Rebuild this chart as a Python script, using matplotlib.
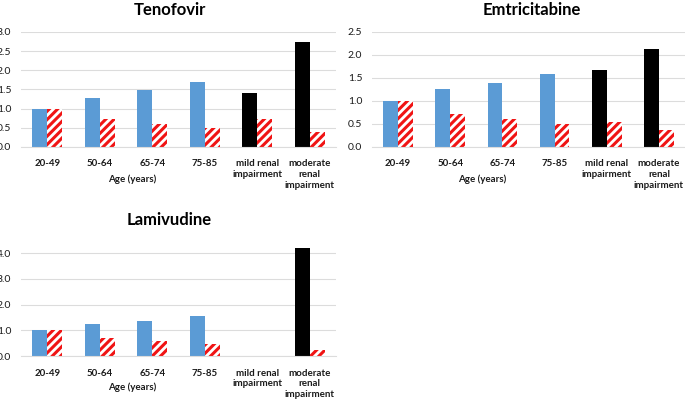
import numpy as np
import matplotlib
matplotlib.use("Agg")
import matplotlib.pyplot as plt
from matplotlib.transforms import blended_transform_factory

plt.rcParams['font.family'] = ['Lato', 'DejaVu Sans']
plt.rcParams['hatch.linewidth'] = 2.2

categories = ["20-49", "50-64", "65-74", "75-85", "mild renal\nimpairment", "moderate\nrenal\nimpairment"]

tenofovir_exposure = [1.0, 1.28, 1.48, 1.70, 1.40, 2.75]
tenofovir_dose = [1.0, 0.72, 0.60, 0.50, 0.72, 0.38]

emtricitabine_exposure = [1.0, 1.25, 1.40, 1.58, 1.68, 2.12]
emtricitabine_dose = [1.0, 0.72, 0.60, 0.50, 0.55, 0.37]

lamivudine_exposure = [1.0, 1.24, 1.38, 1.56, np.nan, 4.2]
lamivudine_dose = [1.0, 0.72, 0.60, 0.48, np.nan, 0.25]

titles = ["Tenofovir", "Emtricitabine", "Lamivudine"]
xlabel = "Age (years)"

BLUE = "#5b9bd5"
BLACK = "#000000"
RED = "#f01414"
GRID = "#dcdcdc"
TXT = "#1a1a1a"

W, H = 685, 401
fig = plt.figure(figsize=(W / 100, H / 100), dpi=100)


def rect(x0, x1, ytop, ybot):
    return [x0 / W, 1 - ybot / H, (x1 - x0) / W, (ybot - ytop) / H]


panels = [
    dict(box=rect(21, 336, 32, 147), ylim=(0, 3.0), ticks=np.arange(0, 3.01, 0.5),
         exp=tenofovir_exposure, dose=tenofovir_dose, title=titles[0], tx=170, ty=10),
    dict(box=rect(372, 685, 32, 147), ylim=(0, 2.5), ticks=np.arange(0, 2.51, 0.5),
         exp=emtricitabine_exposure, dose=emtricitabine_dose, title=titles[1], tx=532, ty=10),
    dict(box=rect(21, 336, 243, 356), ylim=(0, 4.4), ticks=np.arange(0, 4.01, 1.0),
         exp=lamivudine_exposure, dose=lamivudine_dose, title=titles[2], tx=169, ty=220),
]

bw = 0.285
x = np.arange(len(categories))
colors = [BLUE, BLUE, BLUE, BLUE, BLACK, BLACK]

for p in panels:
    ax = fig.add_axes(p["box"])
    ax.bar(x - bw / 2, p["exp"], width=bw, color=colors, zorder=2)
    ax.bar(x + bw / 2, p["dose"], width=bw, facecolor="white", edgecolor=RED,
           hatch="////", linewidth=0, zorder=2)
    ax.set_xlim(-0.5, len(categories) - 0.5)
    ax.set_ylim(*p["ylim"])
    ax.set_yticks(p["ticks"])
    ax.set_yticklabels([f"{t:.1f}" for t in p["ticks"]], fontsize=7.5, color=TXT)
    ax.set_xticks(x)
    ax.set_xticklabels(categories, fontsize=7, color=TXT, fontweight="bold",
                       linespacing=1.25, va="top")
    ax.tick_params(axis="both", length=0, pad=7)
    ax.tick_params(axis="x", pad=9)
    ax.grid(axis="y", color=GRID, linewidth=0.8, zorder=0)
    ax.set_axisbelow(True)
    for s in ["top", "right", "left"]:
        ax.spines[s].set_visible(False)
    ax.spines["bottom"].set_color(GRID)
    ax.spines["bottom"].set_linewidth(0.8)
    ax.text(1.62, -0.28, xlabel,
            transform=blended_transform_factory(ax.transData, ax.transAxes),
            ha="center", va="center", fontsize=7, color=TXT, fontweight="bold")
    fig.text(p["tx"] / W, 1 - p["ty"] / H, p["title"], ha="center", va="center",
             fontsize=12, fontweight="bold", color="black")

fig.savefig("out.png", dpi=100)
